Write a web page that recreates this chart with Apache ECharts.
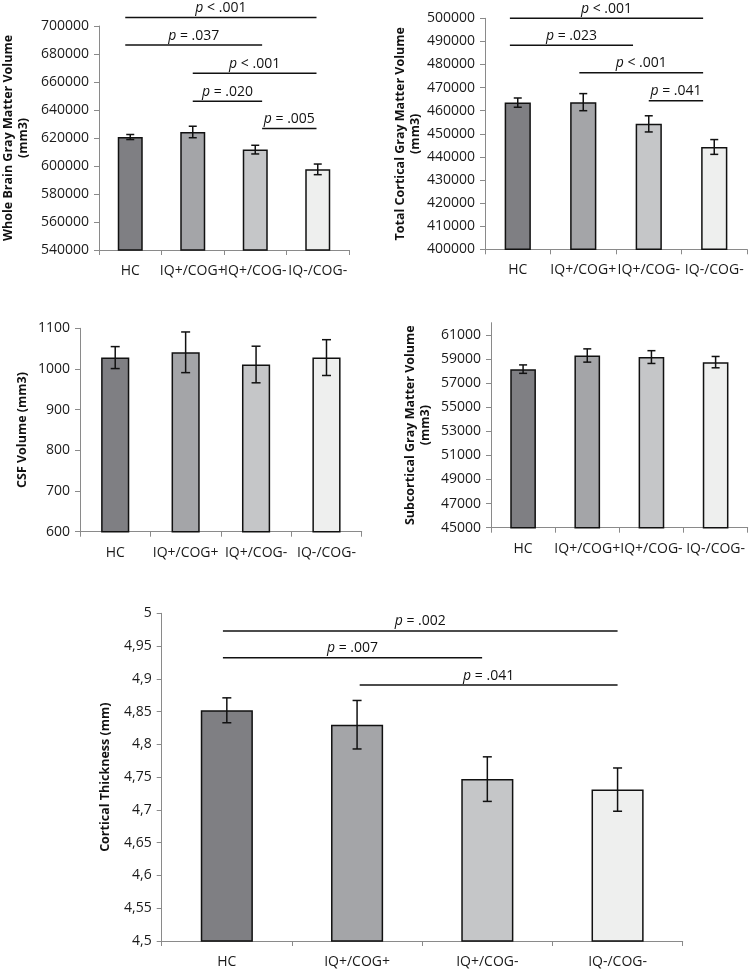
<!DOCTYPE html>
<html><head><meta charset="utf-8">
<script src="https://cdn.jsdelivr.net/npm/echarts@6/dist/echarts.min.js"></script>
<style>html,body{margin:0;padding:0;background:#fff}#c{width:750px;height:972px}</style>
</head><body><div id="c"></div>
<script>
// ---------------- DATA ----------------
const categories = ['HC', 'IQ+/COG+', 'IQ+/COG-', 'IQ-/COG-'];

const wholeBrainMean = [620700, 624300, 611700, 597600];
const wholeBrainErr  = [1800, 4100, 3100, 3800];
const wholeBrainSigPairs = [[0, 3], [0, 2], [1, 3], [1, 2], [2, 3]];
const wholeBrainSigLevel = [706000, 686400, 666300, 646200, 626800];
const wholeBrainSigText  = ['< .001', '= .037', '< .001', '= .020', '= .005'];

const corticalMean = [463500, 463700, 454300, 444300];
const corticalErr  = [2000, 3700, 3500, 3200];
const corticalSigPairs = [[0, 3], [0, 2], [1, 3], [2, 3]];
const corticalSigLevel = [500000, 488300, 476400, 464300];
const corticalSigText  = ['< .001', '= .023', '< .001', '= .041'];

const csfMean = [1028, 1041, 1011, 1028];
const csfErr  = [27, 50, 45, 44];

const subMean = [58150, 59280, 59150, 58730];
const subErr  = [350, 550, 530, 470];
const subTicks = [45000, 47000, 49000, 51000, 53000, 55000, 57000, 59000, 61000];

const thickMean = [4.852, 4.830, 4.747, 4.731];
const thickErr  = [0.019, 0.037, 0.034, 0.033];
const thickSigPairs = [[0, 3], [0, 2], [1, 3]];
const thickSigLevel = [4.973, 4.932, 4.8905];
const thickSigText  = ['= .002', '= .007', '= .041'];

// ---------------- STYLE ----------------
const barColors = ['#7f7f83', '#a4a5a8', '#c5c6c8', '#eeefee'];
const FONT = 'Open Sans';
const axisGray = '#8a8a8a';
// small per-bracket end offsets (fraction of a category band)
const wbOffsets  = {start: [-0.08, -0.08, 0.0, 0.0, 0.11], end: [-0.02, 0.11, -0.02, 0.11, -0.02]};
const ctOffsets  = {start: [-0.12, -0.12, -0.06, 0.0], end: [-0.17, -0.24, -0.17, -0.17]};
const thOffsets  = {start: [-0.03, -0.03, 0.02], end: [0.0, -0.04, 0.0]};

const chart = echarts.init(document.getElementById('c'), null, {renderer: 'canvas'});

const grids = [
  {left: 96,  top: 26,    width: 253,   height: 224},
  {left: 485, top: 18.3,  width: 262,   height: 231},
  {left: 80,  top: 328.3, width: 281.7, height: 203.4},
  {left: 491, top: 322.7, width: 256.7, height: 205},
  {left: 161.7, top: 613.3, width: 521, height: 327.7}
];

const plain = v => String(v);

function xAx(g) {
  return {
    type: 'category', gridIndex: g, data: categories,
    axisLine: {lineStyle: {color: axisGray, width: 1}},
    axisTick: {show: true, length: 5, lineStyle: {color: axisGray}},
    axisLabel: {interval: 0, color: '#1a1a1a', fontSize: 14, fontFamily: FONT, margin: 14}
  };
}
function yAx(g, o) {
  return Object.assign({
    type: 'value', gridIndex: g,
    splitLine: {show: false},
    axisLine: {show: true, lineStyle: {color: axisGray, width: 1}},
    axisTick: {show: true, length: 5, lineStyle: {color: axisGray}},
    axisLabel: {color: '#1a1a1a', fontSize: 14, fontFamily: FONT, margin: 10, formatter: plain},
    nameLocation: 'middle', nameRotate: 90,
    nameTextStyle: {fontWeight: 'bold', fontSize: 12.5, fontFamily: FONT, color: '#111', lineHeight: 15}
  }, o);
}

function barSeries(g, mean) {
  return {
    type: 'bar', xAxisIndex: g, yAxisIndex: g, barWidth: '40%', z: 2,
    data: mean.map((v, i) => ({value: v, itemStyle: {color: barColors[i]}})),
    itemStyle: {borderColor: '#111', borderWidth: 1.5},
    silent: true, animation: false
  };
}

function errSeries(g, mean, err, cap) {
  return {
    type: 'custom', xAxisIndex: g, yAxisIndex: g, silent: true, animation: false, z: 5,
    encode: {x: 0, y: [1, 2]},
    data: mean.map((m, i) => [i, m - err[i], m + err[i]]),
    renderItem: function (params, api) {
      const lo = api.coord([api.value(0), api.value(1)]);
      const hi = api.coord([api.value(0), api.value(2)]);
      const st = {stroke: '#111', lineWidth: 1.5};
      return {type: 'group', children: [
        {type: 'line', shape: {x1: lo[0], y1: lo[1], x2: hi[0], y2: hi[1]}, style: st},
        {type: 'line', shape: {x1: lo[0] - cap, y1: lo[1], x2: lo[0] + cap, y2: lo[1]}, style: st},
        {type: 'line', shape: {x1: hi[0] - cap, y1: hi[1], x2: hi[0] + cap, y2: hi[1]}, style: st}
      ]};
    }
  };
}

function sigSeries(g, pairs, levels, texts, offsets) {
  return {
    type: 'custom', xAxisIndex: g, yAxisIndex: g, silent: true, animation: false, clip: false, z: 5,
    encode: {x: [0, 1], y: 2},
    data: pairs.map((p, i) => [p[0], p[1], levels[i]]),
    renderItem: function (params, api) {
      const i = params.dataIndex;
      const bw = api.size([1, 0])[0];
      const p1 = api.coord([api.value(0), api.value(2)]);
      const p2 = api.coord([api.value(1), api.value(2)]);
      const x1 = p1[0] + offsets.start[i] * bw;
      const x2 = p2[0] + offsets.end[i] * bw;
      return {type: 'group', children: [
        {type: 'line', shape: {x1: x1, y1: p1[1], x2: x2, y2: p1[1]}, style: {stroke: '#111', lineWidth: 1.5}},
        {type: 'text', x: (x1 + x2) / 2, y: p1[1] - 2.5, style: {
          text: '{i|p} ' + texts[i], align: 'center', verticalAlign: 'bottom',
          fontSize: 14, fontFamily: FONT, fill: '#111',
          rich: {i: {fontStyle: 'italic', fontSize: 14, fontFamily: FONT, fill: '#111'}}
        }}
      ]};
    }
  };
}

const option = {
  backgroundColor: '#fff',
  animation: false,
  grid: grids,
  xAxis: [xAx(0), xAx(1), xAx(2), xAx(3), xAx(4)],
  yAxis: [
    yAx(0, {min: 540000, max: 700000, interval: 20000, name: 'Whole Brain Gray Matter Volume\n(mm3)', nameGap: 68}),
    yAx(1, {min: 400000, max: 500000, interval: 10000, name: 'Total Cortical Gray Matter Volume\n(mm3)', nameGap: 58}),
    yAx(2, {min: 600, max: 1100, interval: 100, name: 'CSF Volume (mm3)', nameGap: 50}),
    yAx(3, {min: 45000, max: 62000, name: 'Subcortical Gray Matter Volume\n(mm3)', nameGap: 58,
            axisLabel: {color: '#1a1a1a', fontSize: 14, fontFamily: FONT, margin: 10, formatter: plain, customValues: subTicks},
            axisTick: {show: true, length: 5, lineStyle: {color: axisGray}, customValues: subTicks}}),
    yAx(4, {min: 4.5, max: 5, interval: 0.05, name: 'Cortical Thickness (mm)', nameGap: 46,
            axisLabel: {color: '#1a1a1a', fontSize: 14, fontFamily: FONT, margin: 10,
                        formatter: v => String(Math.round(v * 100) / 100).replace('.', ',')}})
  ],
  series: [
    barSeries(0, wholeBrainMean), errSeries(0, wholeBrainMean, wholeBrainErr, 4),
    sigSeries(0, wholeBrainSigPairs, wholeBrainSigLevel, wholeBrainSigText, wbOffsets),
    barSeries(1, corticalMean), errSeries(1, corticalMean, corticalErr, 4),
    sigSeries(1, corticalSigPairs, corticalSigLevel, corticalSigText, ctOffsets),
    barSeries(2, csfMean), errSeries(2, csfMean, csfErr, 4.5),
    barSeries(3, subMean), errSeries(3, subMean, subErr, 4),
    barSeries(4, thickMean), errSeries(4, thickMean, thickErr, 4.5),
    sigSeries(4, thickSigPairs, thickSigLevel, thickSigText, thOffsets)
  ]
};
chart.setOption(option);
</script></body></html>
